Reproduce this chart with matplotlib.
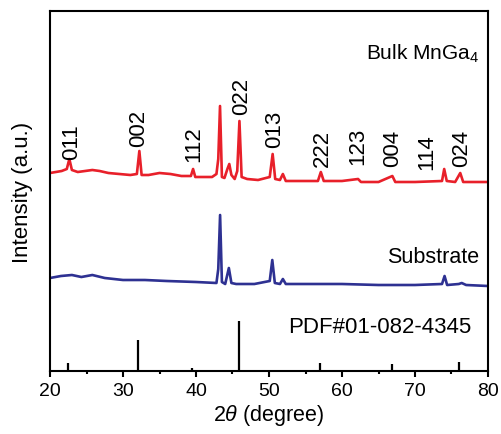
import numpy as np
import matplotlib
matplotlib.use('Agg')
import matplotlib.pyplot as plt

plt.rcParams['font.family'] = ['Liberation Sans', 'DejaVu Sans']
plt.rcParams['mathtext.fontset'] = 'custom'
plt.rcParams['mathtext.rm'] = 'Liberation Sans'
plt.rcParams['mathtext.it'] = 'Liberation Sans:italic'

# bulk MnGa4 pattern (2theta, intensity in a.u.)
bulk_2theta = [20.0, 20.8, 21.6, 22.3, 22.65, 23.0, 23.8, 24.8, 25.8, 26.8, 28.0, 29.5,
               31.0, 31.9, 32.24, 32.55, 33.5, 35.0, 36.5, 38.0, 39.3, 39.6, 39.9, 41.0,
               42.2, 42.8, 43.05, 43.29, 43.55, 43.9, 44.3, 44.56, 44.85, 45.3, 45.65, 45.95,
               46.25, 47.0, 48.5, 50.1, 50.5, 50.85, 51.5, 51.9, 52.3, 54.0, 56.7, 57.1,
               57.5, 60.0, 62.2, 62.6, 65.0, 66.9, 67.3, 70.0, 73.7, 74.0, 74.35, 75.5,
               76.2, 76.6, 78.0, 80.0]
bulk_int = [198, 199, 200, 202, 212, 201, 199, 200, 201, 200, 198, 197,
            196, 197, 220, 196, 196, 198, 197, 195, 195, 202, 194, 194,
            194, 197, 212, 265, 194, 193, 202, 207, 196, 192, 200, 250,
            194, 192, 191, 194, 217, 192, 191, 197, 190, 190, 190, 199,
            190, 190, 192, 189, 189, 195, 189, 189, 190, 202, 190, 189,
            198, 189, 189, 189]

# substrate pattern
sub_2theta = [20.0, 21.5, 23.0, 24.3, 25.8, 27.5, 30.0, 33.0, 36.0, 40.0, 42.8, 43.05,
              43.3, 43.55, 44.0, 44.5, 44.85, 45.5, 48.0, 50.1, 50.45, 50.8, 51.5, 51.9,
              52.3, 56.0, 60.0, 65.0, 70.0, 73.7, 74.05, 74.4, 76.0, 76.4, 77.0, 80.0]
sub_int = [93, 95, 96, 94, 96, 93, 91, 91, 90, 89, 88, 102,
           156, 89, 87, 103, 88, 87, 87, 90, 111, 88, 87, 92,
           87, 87, 87, 86, 86, 87, 95, 86, 87, 88, 86, 85]

# reference card PDF#01-082-4345
pdf_2theta = [22.4, 32.0, 39.5, 45.9, 57.0, 62.2, 66.8, 76.0]
pdf_int = [8, 31, 3, 50, 8, 1.5, 7, 9]

# Miller indices
hkl_labels = ['011', '002', '112', '022', '013', '222', '123', '004', '114', '024']
hkl_2theta = [23.0, 32.2, 39.7, 46.2, 50.8, 57.3, 62.2, 67.0, 71.6, 76.4]
hkl_y = [212, 225, 210, 257, 224, 205, 207, 205, 202, 205]

fig = plt.figure(figsize=(5.02, 4.35), dpi=100)
ax = fig.add_axes([50 / 502, 63 / 435, 438 / 502, 360 / 435])

ax.plot(bulk_2theta, bulk_int, color='#e8202a', lw=1.9)
ax.plot(sub_2theta, sub_int, color='#2e3192', lw=1.9)
ax.vlines(pdf_2theta, 0, pdf_int, color='black', lw=1.6)

for lab, x, y in zip(hkl_labels, hkl_2theta, hkl_y):
    ax.text(x, y, lab, rotation=90, ha='center', va='bottom', fontsize=16)

ax.text(78.8, 312, 'Bulk MnGa$_4$', ha='right', va='baseline', fontsize=15)
ax.text(78.8, 109, 'Substrate', ha='right', va='baseline', fontsize=15.5)
ax.text(77.7, 39, 'PDF#01-082-4345', ha='right', va='baseline', fontsize=16)

ax.set_xlim(20, 80)
ax.set_ylim(0, 360)
ax.set_xticks(np.arange(20, 81, 10))
ax.set_xticks(np.arange(25, 80, 10), minor=True)
ax.set_yticks([])
ax.tick_params(axis='x', which='major', direction='out', length=4, width=1.5,
               labelsize=14, pad=4)
ax.tick_params(axis='x', which='minor', direction='out', length=2.5, width=1.5)
for s in ax.spines.values():
    s.set_linewidth(1.5)

ax.set_xlabel('2$\\it{\\theta}$ (degree)', fontsize=15.5, labelpad=2)
ax.set_ylabel('Intensity (a.u.)', fontsize=16, labelpad=12)

fig.savefig('out.png', dpi=100)
